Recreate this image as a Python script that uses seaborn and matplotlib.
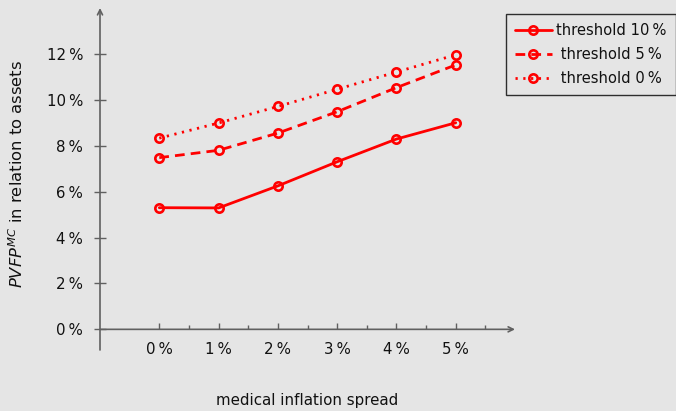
import matplotlib
matplotlib.use("Agg")
import matplotlib.pyplot as plt
import seaborn as sns
import pandas as pd

# medical inflation spread (in %) and PVFP^MC relative to assets (in %)
spread = [0, 1, 2, 3, 4, 5]
threshold_10 = [5.30, 5.29, 6.25, 7.30, 8.29, 9.00]
threshold_5 = [7.48, 7.80, 8.55, 9.48, 10.53, 11.52]
threshold_0 = [8.33, 8.99, 9.71, 10.46, 11.21, 11.96]
series_labels = ["threshold 10\u2009%", " threshold 5\u2009%", " threshold 0\u2009%"]
x_ticks = [0, 1, 2, 3, 4, 5]
y_ticks = [0, 2, 4, 6, 8, 10, 12]

sns.set_theme(style="white")
plt.rcParams["font.family"] = ["DejaVu Sans"]
plt.rcParams["mathtext.fontset"] = "dejavusans"
plt.rcParams["text.color"] = "#111111"

bg = "#e5e5e5"
axis_col = "#606060"
fs = 10.8

fig = plt.figure(figsize=(6.76, 4.11), dpi=100, facecolor=bg)
ax = fig.add_axes([100 / 676, 1 - 350 / 411, 415 / 676, 342 / 411])
ax.set_facecolor(bg)

frames = []
for vals, lab in zip([threshold_10, threshold_5, threshold_0], series_labels):
    frames.append(pd.DataFrame({"spread": spread, "value": vals, "series": lab}))
df = pd.concat(frames, ignore_index=True)

styles = {
    series_labels[0]: "-",
    series_labels[1]: (0, (3.5, 2.2)),
    series_labels[2]: (0, (0.8, 2.0)),
}
for lab in series_labels:
    sub = df[df["series"] == lab]
    sns.lineplot(data=sub, x="spread", y="value", ax=ax, color="#ff0000",
                 linewidth=2.0, linestyle=styles[lab], marker="o",
                 markersize=6, markerfacecolor="none", markeredgecolor="#ff0000",
                 markeredgewidth=1.9, label=lab)

ax.set_xlim(-1, 6)
ax.set_ylim(-0.9, 14)

# axis lines drawn as arrows, pgfplots style
for s in ax.spines.values():
    s.set_visible(False)
ax.annotate("", xy=(6, 0), xytext=(-1, 0), xycoords="data",
            arrowprops=dict(arrowstyle="->", color=axis_col, lw=1.2,
                            shrinkA=0, shrinkB=0, mutation_scale=9))
ax.annotate("", xy=(-1, 14), xytext=(-1, -0.9), xycoords="data",
            arrowprops=dict(arrowstyle="->", color=axis_col, lw=1.2,
                            shrinkA=0, shrinkB=0, mutation_scale=9))

ax.set_xticks(x_ticks)
ax.set_xticklabels([f"{v}\u2009%" for v in x_ticks])
ax.set_xticks([0.5, 1.5, 2.5, 3.5, 4.5, 5.5], minor=True)
ax.set_yticks(y_ticks)
ax.set_yticklabels([f"{v}\u2009%" for v in y_ticks])

ax.spines["bottom"].set_position(("data", 0))
ax.xaxis.set_ticks_position("bottom")
ax.tick_params(axis="x", which="both", direction="in", length=4, width=1,
               color=axis_col, labelsize=fs, pad=9, bottom=True,
               labelcolor="#111111")
ax.tick_params(axis="x", which="minor", length=3)
ax.tick_params(axis="y", which="major", direction="inout", length=8, width=1,
               color=axis_col, labelsize=fs, pad=8, left=True,
               labelcolor="#111111")

ax.set_xlabel("medical inflation spread", fontsize=fs, va="center",
              color="#111111")
ax.xaxis.set_label_coords(0.5, -50 / 342)
ax.set_ylabel(r"$PVFP^{MC}$ in relation to assets", fontsize=11.8,
              va="center", color="#111111")
ax.yaxis.set_label_coords(-83 / 415, (350 - 174) / 342)

leg = ax.legend(loc="upper right", bbox_to_anchor=(675.5 / 676, 1 - 14 / 411),
                bbox_transform=fig.transFigure, frameon=True, fancybox=False,
                fontsize=10.6, handlelength=2.5, handletextpad=0.3,
                labelspacing=0.62, borderpad=0.6, borderaxespad=0,
                labelcolor="#111111")
leg.get_frame().set_edgecolor("black")
leg.get_frame().set_facecolor(bg)
leg.get_frame().set_linewidth(1.0)

fig.savefig("out.png", dpi=100, facecolor=bg)
